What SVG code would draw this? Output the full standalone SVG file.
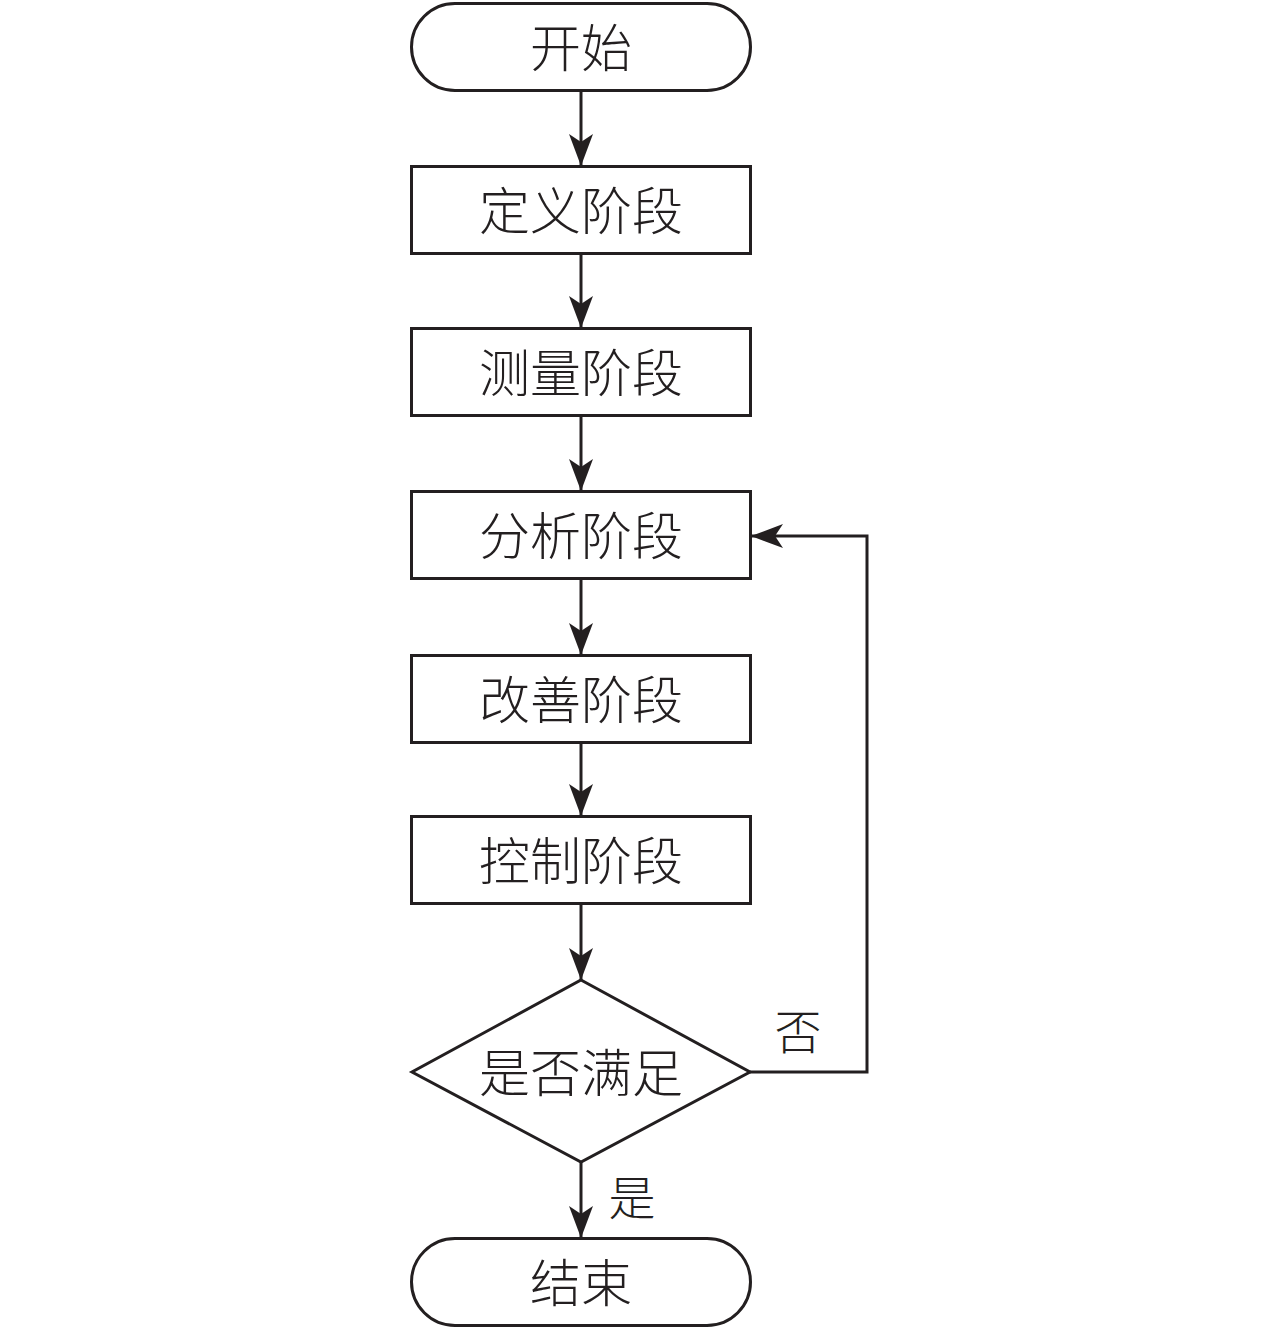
<svg xmlns="http://www.w3.org/2000/svg" width="1280" height="1329" viewBox="0 0 1280 1329">
<style>
.shape{fill:#fff;stroke:#231f20;stroke-width:3}
.line{fill:none;stroke:#231f20;stroke-width:3}
.t{font-family:"Noto Sans CJK SC","Noto Sans CJK JP",sans-serif;font-size:51px;fill:#231f20;text-anchor:middle;dominant-baseline:central;font-weight:300}
.lbl{font-family:"Noto Sans CJK SC","Noto Sans CJK JP",sans-serif;font-size:47px;fill:#231f20;text-anchor:middle;dominant-baseline:central;font-weight:300}
</style>
<defs>
<marker id="arr" markerUnits="userSpaceOnUse" markerWidth="32" markerHeight="24" viewBox="0 0 32 24" refX="32" refY="12" orient="auto">
<path d="M0,0 L32,12 L0,24 L8,12 Z" fill="#231f20"/>
</marker>
</defs>
<rect width="1280" height="1329" fill="#fff"/>
<g id="start"><rect class="shape" x="411.5" y="3.5" width="339" height="87" rx="43.5"/><text class="t" x="581" y="45">开始</text></g>
<g id="define"><rect class="shape" x="411.5" y="166.5" width="339" height="87"/><text class="t" x="581" y="208">定义阶段</text></g>
<g id="measure"><rect class="shape" x="411.5" y="328.5" width="339" height="87"/><text class="t" x="581" y="370">测量阶段</text></g>
<g id="analyze"><rect class="shape" x="411.5" y="491.5" width="339" height="87"/><text class="t" x="581" y="533">分析阶段</text></g>
<g id="improve"><rect class="shape" x="411.5" y="655.5" width="339" height="87"/><text class="t" x="581" y="697">改善阶段</text></g>
<g id="control"><rect class="shape" x="411.5" y="816.5" width="339" height="87"/><text class="t" x="581" y="858">控制阶段</text></g>
<g id="decision"><polygon class="shape" points="581,980 750,1072 581,1162 412,1072"/><text class="t" x="581" y="1070">是否满足</text></g>
<g id="end"><rect class="shape" x="411.5" y="1238.5" width="339" height="87" rx="43.5"/><text class="t" x="581" y="1280">结束</text></g>
<g id="connectors">
<line class="line" x1="581" y1="91" x2="581" y2="166" marker-end="url(#arr)"/>
<line class="line" x1="581" y1="254" x2="581" y2="328" marker-end="url(#arr)"/>
<line class="line" x1="581" y1="416" x2="581" y2="491" marker-end="url(#arr)"/>
<line class="line" x1="581" y1="579" x2="581" y2="655" marker-end="url(#arr)"/>
<line class="line" x1="581" y1="743" x2="581" y2="816" marker-end="url(#arr)"/>
<line class="line" x1="581" y1="904" x2="581" y2="980" marker-end="url(#arr)"/>
<line class="line" x1="581" y1="1162" x2="581" y2="1238" marker-end="url(#arr)"/>
<polyline class="line" points="750,1072 867,1072 867,536 751,536" marker-end="url(#arr)"/>
<text class="lbl" x="798" y="1028">否</text>
<text class="lbl" x="632" y="1194">是</text>
</g>
</svg>
